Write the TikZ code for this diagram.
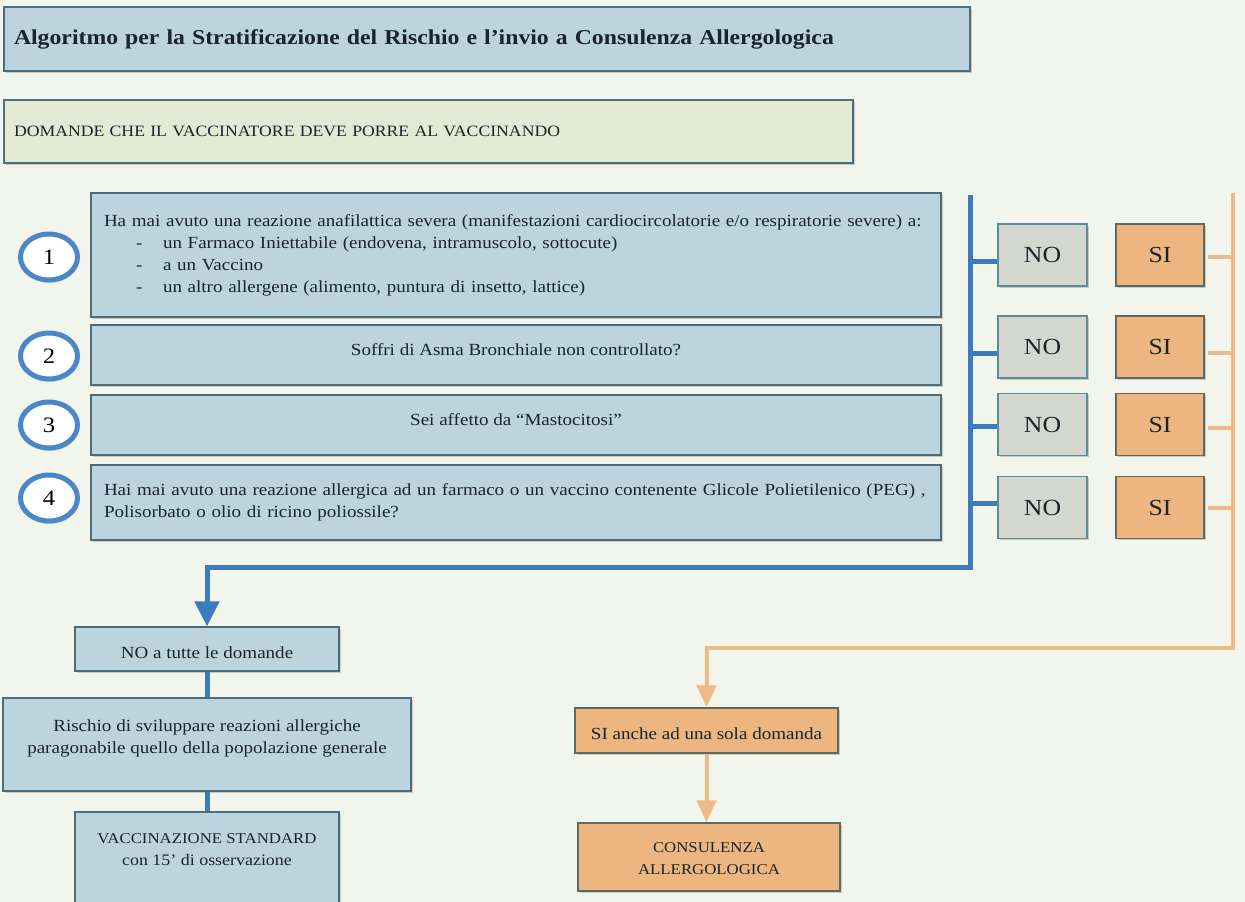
\documentclass[tikz,border=0pt]{standalone}
\usepackage{fontspec}
\setmainfont[FakeStretch=1.12]{Liberation Serif}
\usetikzlibrary{arrows.meta,shapes.geometric,shadows,calc}
\definecolor{bg}{HTML}{F2F5EC}
\definecolor{bluefill}{HTML}{BDD3DE}
\definecolor{boxborder}{HTML}{4A6E7E}
\definecolor{greenfill}{HTML}{E3EAD3}
\definecolor{nofill}{HTML}{D4D7D0}
\definecolor{noborder}{HTML}{5F8A96}
\definecolor{sifill}{HTML}{EDB57F}
\definecolor{siborder}{HTML}{5B6B60}
\definecolor{lineblue}{HTML}{3D7BBF}
\definecolor{lineorange}{HTML}{F0BA86}
\definecolor{ringblue}{HTML}{4A86C8}
\definecolor{txt}{HTML}{1A252B}
\begin{document}
\begin{tikzpicture}[x=1pt,y=-1pt,
  box/.style={draw=boxborder, line width=1.3pt, inner sep=0pt, text=txt,
    drop shadow={shadow xshift=1.5pt, shadow yshift=-1.5pt, opacity=0.3, fill=black!60}},
  bluebox/.style={box, fill=bluefill},
  greenbox/.style={box, fill=greenfill},
  nobox/.style={box, draw=noborder, fill=nofill, minimum width=89, minimum height=62, font=\fontsize{23}{23}\selectfont},
  sibox/.style={box, draw=siborder, fill=sifill, minimum width=88, minimum height=62, font=\fontsize{23}{23}\selectfont},
  bodyfont/.style={font=\fontsize{17}{22}\selectfont, text=txt},
  txtnode/.style={bodyfont, inner sep=0pt, align=center},
  capsnode/.style={txtnode, font=\fontsize{15}{22}\selectfont},
  ring/.style={ellipse, draw=ringblue, line width=5pt, fill=white, minimum width=57, minimum height=46,
    inner sep=0pt, font=\fontsize{22}{22}\selectfont,
    drop shadow={shadow xshift=1pt, shadow yshift=-3pt, opacity=0.25, fill=black!60}},
  blueline/.style={draw=lineblue, line width=5pt},
  orangeline/.style={draw=lineorange, line width=4pt},
  bluetip/.style={-{Triangle[width=24pt,length=25pt]}},
  orangetip/.style={-{Triangle[width=19pt,length=22pt]}}
]
\fill[bg] (0,0) rectangle (1245,902);
\useasboundingbox (0,0) rectangle (1245,902);

% header boxes
\node[bluebox, minimum width=966, minimum height=64, text width=946, align=left,
      font=\bfseries\fontsize{21.2}{24}\selectfont] (title) at (487,39)
  {Algoritmo per la Stratificazione del Rischio e l’invio a Consulenza Allergologica};
\node[greenbox, minimum width=849, minimum height=63, text width=829, align=left,
      font=\fontsize{15.8}{18}\selectfont] (domande) at (428.5,131.5)
  {DOMANDE CHE IL VACCINATORE DEVE PORRE AL VACCINANDO};

% question boxes
\node[bluebox, bodyfont, minimum width=850, minimum height=124, text width=824, align=left] (q1) at (516,255)
  {Ha mai avuto una reazione anafilattica severa (manifestazioni cardiocircolatorie e/o respiratorie severe) a:\\
   \makebox[59pt][l]{\hspace*{32pt}-}un Farmaco Iniettabile (endovena, intramuscolo, sottocute)\\
   \makebox[59pt][l]{\hspace*{32pt}-}a un Vaccino\\
   \makebox[59pt][l]{\hspace*{32pt}-}un altro allergene (alimento, puntura di insetto, lattice)};
\node[bluebox, minimum width=850, minimum height=60] (q2) at (516,355) {};
\node[txtnode] (q2t) at (516,350) {Soffri di Asma Bronchiale non controllato?};
\node[bluebox, minimum width=850, minimum height=60] (q3) at (516,425) {};
\node[txtnode] (q3t) at (516,420) {Sei affetto da “Mastocitosi”};
\node[bluebox, bodyfont, minimum width=850, minimum height=75, text width=824, align=left] (q4) at (516,502.5)
  {Hai mai avuto una reazione allergica ad un farmaco o un vaccino contenente Glicole Polietilenico (PEG) ,\\
   Polisorbato o olio di ricino poliossile?};

% numbered rings
\node[ring] (c1) at (49,257) {1};
\node[ring] (c2) at (49,356) {2};
\node[ring] (c3) at (49,425) {3};
\node[ring] (c4) at (49,498) {4};

% NO / SI boxes
\node[nobox] (no1) at (1042.5,255) {NO};
\node[nobox] (no2) at (1042.5,347) {NO};
\node[nobox] (no3) at (1042.5,424.5) {NO};
\node[nobox] (no4) at (1042.5,507.5) {NO};
\node[sibox] (si1) at (1160,255) {SI};
\node[sibox] (si2) at (1160,347) {SI};
\node[sibox] (si3) at (1160,424.5) {SI};
\node[sibox] (si4) at (1160,507.5) {SI};

% bottom-left boxes
\node[bluebox, minimum width=264, minimum height=44] (notutte) at (207,649) {};
\node[txtnode] (notuttet) at (207,653) {NO a tutte le domande};
\node[bluebox, minimum width=408, minimum height=93] (rischio) at (207,744.5) {};
\node[txtnode] (rischiot) at (207,738) {Rischio di sviluppare reazioni allergiche\\paragonabile quello della popolazione generale};
\node[bluebox, minimum width=264, minimum height=94] (vacc) at (207,859) {};
\node[capsnode] (vacct) at (207,850) {VACCINAZIONE STANDARD\\{\fontsize{16}{22}\selectfont con 15’ di osservazione}};

% bottom-right boxes
\node[box, draw=siborder, fill=sifill, minimum width=263, minimum height=45] (sianche) at (706.5,730.5) {};
\node[txtnode] (sianchet) at (706.5,734) {SI anche ad una sola domanda};
\node[box, draw=siborder, fill=sifill, minimum width=262, minimum height=68] (consulenza) at (709,857) {};
\node[capsnode] (consulenzat) at (709,858.5) {CONSULENZA\\ALLERGOLOGICA};

% blue connectors
\coordinate (btop) at (970,195);
\coordinate (bbot) at (970,567);
\draw[blueline, bluetip] (btop) -- (bbot) -| (notutte.north);
\coordinate (n1) at ($(no1.west)+(0,6)$);
\coordinate (n2) at ($(no2.west)+(0,6)$);
\coordinate (n3) at ($(no3.west)+(0,1.5)$);
\coordinate (n4) at ($(no4.west)+(0,-4.5)$);
\foreach \n in {n1,n2,n3,n4} \draw[blueline] (\n -| btop) -- (\n);
\draw[blueline] (notutte.south) -- (rischio.north);
\draw[blueline] (rischio.south) -- (vacc.north);

% orange connectors
\coordinate (otop) at (1233,193);
\coordinate (obot) at (1233,648);
\draw[orangeline, orangetip] (otop) -- (obot) -| (sianche.north);
\coordinate (s1) at ($(si1.east)+(3,2)$);
\coordinate (s2) at ($(si2.east)+(3,6)$);
\coordinate (s3) at ($(si3.east)+(3,3.5)$);
\coordinate (s4) at ($(si4.east)+(3,0.5)$);
\foreach \s in {s1,s2,s3,s4} \draw[orangeline] (\s) -- (\s -| otop);
\draw[orangeline, orangetip] (sianche.south) -- (sianche.south |- consulenza.north);
\end{tikzpicture}
\end{document}
